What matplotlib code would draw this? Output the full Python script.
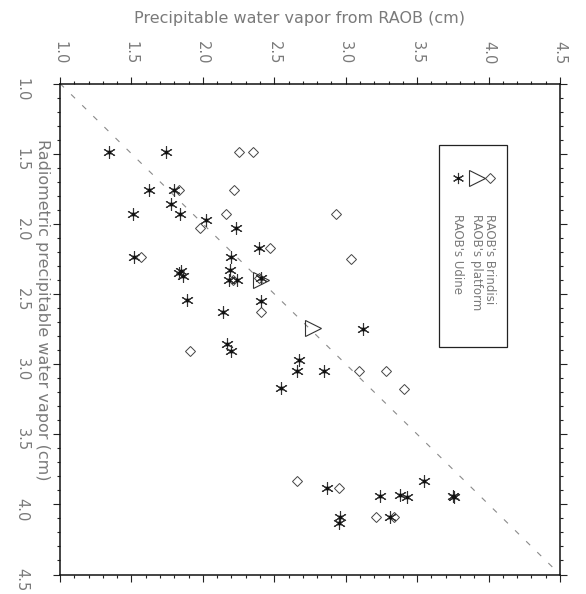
import matplotlib
matplotlib.use("Agg")
import matplotlib.pyplot as plt
from matplotlib.patches import Rectangle
from matplotlib.ticker import MultipleLocator

# RAOB precipitable water (top axis) vs radiometric precipitable water (left axis), cm
brindisi_raob = [2.25, 2.35, 2.22, 1.83, 2.16, 1.98, 2.47, 1.57, 2.21, 2.39, 2.41,
                 1.91, 2.93, 3.04, 3.09, 3.28, 3.41, 2.66, 2.95, 3.21, 3.34]
brindisi_radiom = [1.49, 1.49, 1.76, 1.76, 1.93, 2.03, 2.17, 2.24, 2.40, 2.39, 2.63,
                   2.91, 1.93, 2.25, 3.05, 3.05, 3.18, 3.83, 3.88, 4.09, 4.09]

platform_raob = [2.41, 2.77]
platform_radiom = [2.40, 2.74]

udine_raob = [1.34, 1.74, 1.62, 1.80, 1.78, 1.84, 1.51, 2.02, 2.23, 2.39, 1.52, 2.20,
              2.19, 1.83, 1.86, 1.85, 2.18, 2.24, 2.41, 2.41, 1.89, 2.14, 2.17, 2.20,
              2.67, 2.66, 3.12, 2.85, 2.55, 2.87, 3.24, 3.38, 3.43, 3.55, 3.75, 3.76,
              3.31, 2.96, 2.95]
udine_radiom = [1.49, 1.49, 1.76, 1.76, 1.86, 1.93, 1.93, 1.97, 2.03, 2.17, 2.24, 2.24,
                2.33, 2.35, 2.37, 2.34, 2.40, 2.40, 2.39, 2.55, 2.54, 2.63, 2.86, 2.91,
                2.97, 3.05, 2.75, 3.05, 3.17, 3.88, 3.94, 3.93, 3.95, 3.83, 3.94, 3.95,
                4.09, 4.09, 4.13]

axis_min, axis_max = 1.0, 4.5
tick_labels = ["1.0", "1.5", "2.0", "2.5", "3.0", "3.5", "4.0", "4.5"]
legend_labels = ["RAOB's Brindisi", "RAOB's platform", "RAOB's Udine"]

txt_color = "#7a7a7a"
fig = plt.figure(figsize=(5.86, 5.94), dpi=100)
ax = fig.add_axes([60 / 586, 1 - 574.5 / 594, 500 / 586, 491 / 594])

ax.plot([axis_min, axis_max], [axis_min, axis_max], color="#8a8a8a", lw=0.8,
        dashes=(5, 9))

star = (6, 2, 0)
ax.plot(brindisi_raob, brindisi_radiom, ls="none", marker="D", ms=5.0, mfc="none",
        mec="#444444", mew=0.7)
ax.plot(platform_raob, platform_radiom, ls="none", marker=">", ms=12, mfc="none",
        mec="#333333", mew=0.8)
ax.plot(udine_raob, udine_radiom, ls="none", marker=star, ms=9, mec="#333333", mew=0.8)
ax.plot(udine_raob, udine_radiom, ls="none", marker="o", ms=3, mfc="#111111",
        mec="#111111", mew=0)

ax.set_xlim(axis_min, axis_max)
ax.set_ylim(axis_max, axis_min)
ax.xaxis.set_minor_locator(MultipleLocator(0.1))
ax.yaxis.set_minor_locator(MultipleLocator(0.1))
ax.set_xticks([1.0 + 0.5 * i for i in range(8)])
ax.set_xticklabels(tick_labels)
ax.set_yticks([1.0 + 0.5 * i for i in range(8)])
ax.set_yticklabels(tick_labels)

ax.tick_params(which="both", direction="out", top=True, bottom=True, left=True,
               right=True, labeltop=True, labelbottom=False, color="#222222", width=0.8)
ax.tick_params(which="major", length=5)
ax.tick_params(which="minor", length=2.5)
ax.tick_params(axis="x", which="major", pad=9, labelsize=10.5, labelcolor=txt_color,
               labelrotation=-90)
ax.tick_params(axis="y", which="major", pad=17, labelsize=10.5, labelcolor=txt_color,
               labelrotation=-90)
for sp in ax.spines.values():
    sp.set_linewidth(1.1)
    sp.set_color("#111111")

fig.text(299 / 586, 1 - 18 / 594, "Precipitable water vapor from RAOB (cm)",
         ha="center", va="center", fontsize=11.5, color=txt_color)
ax.text(-0.036, 0.54, "Radiometric precipitable water vapor (cm)", transform=ax.transAxes,
        rotation=-90, ha="center", va="center", fontsize=11.5, color=txt_color)

# legend box (drawn rotated like the figure)
ax.add_patch(Rectangle((0.758, 0.4633), 0.136, 0.4114, transform=ax.transAxes,
                       fill=False, ec="#222222", lw=0.9))
leg_x = [0.86, 0.834, 0.796]
ax.plot([leg_x[0]], [0.8075], transform=ax.transAxes, ls="none", marker="D", ms=5,
        mfc="none", mec="#444444", mew=0.7)
ax.plot([leg_x[1]], [0.8075], transform=ax.transAxes, ls="none", marker=">", ms=12,
        mfc="none", mec="#333333", mew=0.8)
ax.plot([leg_x[2]], [0.8075], transform=ax.transAxes, ls="none", marker=star, ms=8,
        mec="#333333", mew=0.8)
ax.plot([leg_x[2]], [0.8075], transform=ax.transAxes, ls="none", marker="o", ms=2.5,
        mfc="#111111", mec="#111111", mew=0)
for xx, lab in zip(leg_x, legend_labels):
    ax.text(xx, 0.735, lab, transform=ax.transAxes, rotation=-90, ha="center",
            va="top", fontsize=8.5, color=txt_color)

fig.savefig("out.png", dpi=100)
